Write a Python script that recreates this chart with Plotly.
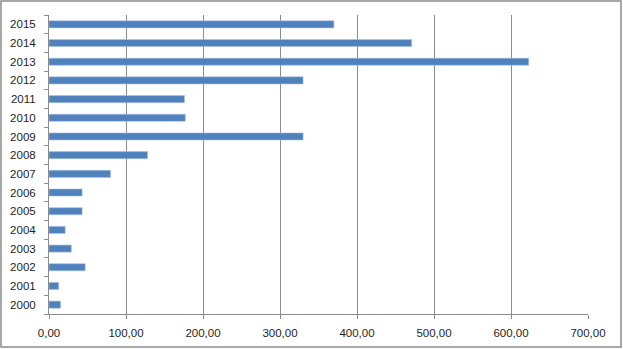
import plotly.graph_objects as go

years = ["2000", "2001", "2002", "2003", "2004", "2005", "2006", "2007",
         "2008", "2009", "2010", "2011", "2012", "2013", "2014", "2015"]
values = [15, 12.5, 47, 29, 21, 43, 43, 80,
          128, 330, 177, 176, 330, 623, 471, 370]
x_ticks = [0, 100, 200, 300, 400, 500, 600, 700]
x_tick_labels = ["0,00", "100,00", "200,00", "300,00", "400,00", "500,00", "600,00", "700,00"]

W, H = 623, 349
L, R, T, B = 49, 35, 15, 35
pw, ph = W - L - R, H - T - B

fig = go.Figure(go.Bar(
    y=years, x=values, orientation="h",
    width=0.38,
    marker=dict(color="#4F81BD", line=dict(color="#A9C1E3", width=0.6)),
))

fig.update_layout(
    width=W, height=H,
    margin=dict(l=L, r=R, t=T, b=B, autoexpand=False),
    paper_bgcolor="white", plot_bgcolor="white",
    showlegend=False,
    font=dict(family="Liberation Sans, Arial, sans-serif", size=11.5, color="#1E1E1E"),
    bargap=0.6,
)
fig.update_xaxes(
    range=[0, 700], tickvals=x_ticks, ticktext=x_tick_labels,
    showgrid=True, gridcolor="#8C8C8C", gridwidth=1,
    showline=True, linecolor="#8C8C8C", linewidth=1,
    ticks="outside", ticklen=4, tickcolor="#8C8C8C",
    ticklabelstandoff=4, zeroline=False, automargin=False,
)
fig.update_yaxes(
    type="category", categoryorder="array", categoryarray=years,
    range=[-0.5, 15.5],
    showgrid=False,
    showline=True, linecolor="#8C8C8C", linewidth=1,
    ticks="outside", ticklen=4, tickcolor="#8C8C8C",
    tickson="boundaries", ticklabelstandoff=10, automargin=False,
)
fig.add_shape(
    type="rect", xref="paper", yref="paper",
    x0=(1 - L) / pw, x1=(621 - L) / pw,
    y0=(H - 347 - B) / ph, y1=(H - 1 - B) / ph,
    line=dict(color="#8C8C8C", width=1.5), fillcolor="rgba(0,0,0,0)",
)

fig.write_html(
    "out.html",
    config={"displayModeBar": False},
    post_script="document.body.style.margin='0';document.body.style.overflow='hidden';",
)
